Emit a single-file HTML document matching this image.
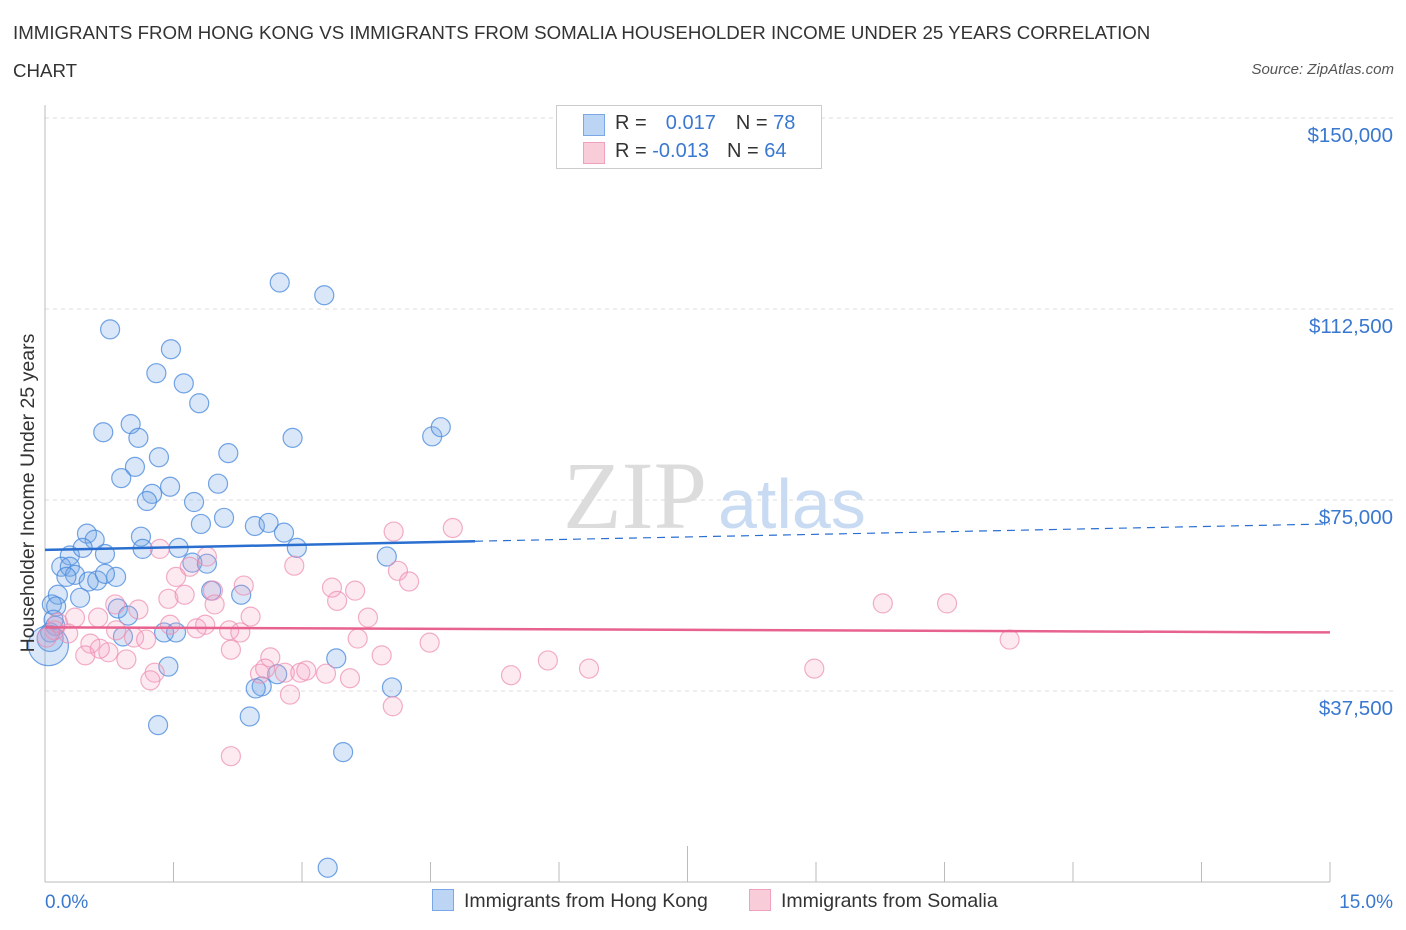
<!DOCTYPE html>
<html><head><meta charset="utf-8"><style>
body{margin:0;background:#fff;font-family:"Liberation Sans",sans-serif;}
#wrap{position:relative;width:1406px;height:930px;overflow:hidden;}
.t{position:absolute;white-space:nowrap;}
</style></head><body>
<div id="wrap">
<div class="t" style="left:13px;top:14px;font-size:18.7px;color:#333;line-height:38px;">IMMIGRANTS FROM HONG KONG VS IMMIGRANTS FROM SOMALIA HOUSEHOLDER INCOME UNDER 25 YEARS CORRELATION<br>CHART</div>
<div class="t" style="right:12px;top:61px;font-size:15px;color:#555;font-style:italic;">Source: ZipAtlas.com</div>
<svg id="svg" width="1406" height="930" style="position:absolute;left:0;top:0"></svg>
</div>
<script>
const yTicks=[37500,75000,112500,150000];
const yTickLabels=["$37,500","$75,000","$112,500","$150,000"];
const xTickLabels=["0.0%","15.0%"];
const hkX=[0.76,2.74,3.26,1.47,1.30,1.62,1.80,0.68,1.00,1.09,2.89,4.52,4.62,2.14,1.33,1.05,0.89,1.46,2.02,1.25,1.19,1.74,2.09,1.82,2.45,2.61,2.79,1.12,0.49,0.58,2.94,1.14,1.56,0.29,0.44,0.70,1.72,1.89,3.99,0.19,0.29,0.35,0.25,0.83,0.51,0.61,1.94,2.29,0.15,0.41,0.08,0.13,0.85,0.97,0.12,0.06,1.39,1.53,0.91,3.40,1.44,2.71,2.53,2.46,4.05,2.39,1.32,3.48,3.30,0.06,0.04,0.10,0.70];
const hkY=[108.5,117.7,115.2,104.6,99.9,97.9,94.0,88.3,89.9,87.2,87.2,87.5,89.3,84.2,83.4,81.5,79.3,77.6,78.2,76.2,74.8,74.6,71.5,70.3,69.9,70.5,68.6,67.8,68.4,67.2,65.6,65.4,65.6,64.1,65.6,64.4,62.7,62.5,63.9,61.9,61.9,60.3,59.9,59.9,59.0,59.2,57.2,56.4,56.4,55.8,54.5,54.1,53.7,52.3,50.3,49.0,49.0,49.0,48.2,43.9,42.3,40.8,38.4,38.0,38.2,32.5,30.8,25.5,2.8,47.8,46.4,51.5,60.5];
const soX=[1.34,1.89,1.69,1.53,1.44,1.63,1.96,1.98,2.32,2.40,1.87,2.15,2.28,1.09,0.82,0.62,0.35,0.27,0.11,0.02,0.53,0.74,0.64,0.47,0.95,1.04,1.18,0.83,1.28,1.23,1.77,2.17,2.63,2.51,2.80,2.98,3.05,2.86,3.28,3.56,2.17,2.91,3.35,3.41,3.62,3.77,3.65,3.93,4.07,4.12,4.25,4.06,4.49,4.76,5.44,5.87,6.35,8.98,9.78,10.53,11.26,2.57,1.46,0.15];
const soY=[65.4,63.9,61.9,59.9,55.6,56.4,57.2,54.5,58.2,52.1,50.5,49.4,49.0,53.5,54.5,51.9,51.9,48.8,49.4,48.0,46.8,45.1,45.8,44.5,43.7,48.0,47.6,49.4,41.1,39.6,49.8,45.6,44.1,40.9,41.1,41.1,41.5,36.8,40.9,40.0,24.7,62.1,57.8,55.2,57.2,51.9,47.8,44.5,68.8,61.1,59.0,34.5,47.0,69.5,40.6,43.5,41.9,41.9,54.7,54.7,47.6,41.9,50.5,50.9];
const hkTrend=[65.2,70.3], soTrend=[50.0,49.0];

const NS="http://www.w3.org/2000/svg", svg=document.getElementById('svg');
const X0=45,X1=1330,Y0=882,YPX=191/37500;
const sx=v=>X0+(v/15)*(X1-X0);
const sy=v=>Y0-v*YPX;
function mk(tag,a,p){const e=document.createElementNS(NS,tag);for(const k in a)e.setAttribute(k,a[k]);(p||svg).appendChild(e);return e;}
yTicks.forEach((t,i)=>{
 const g=mk('line',{x1:X0,x2:1395,y1:sy(t),y2:sy(t),stroke:'#dcdcdc','stroke-dasharray':'4,4'});
 
 
 const l=mk('text',{x:1393,y:sy(t)+24,'text-anchor':'end','font-size':20.5,fill:'#3a78d0','font-family':'Liberation Sans, sans-serif'});
 l.textContent=yTickLabels[i];
 
 
});
const ax=mk('line',{x1:X0,x2:X0,y1:105,y2:Y0,stroke:'#bbb'});


const bx=mk('line',{x1:X0,x2:X1,y1:Y0,y2:Y0,stroke:'#bbb'});


for(let i=1;i<=10;i++){const tk=mk('line',{x1:sx(i*1.5),x2:sx(i*1.5),y1:i==5?846:862,y2:Y0,stroke:'#bbb'});
 
 }
[[0,'start',45],[1,'end',1393]].forEach(([i,a,x])=>{const t=mk('text',{x:x,y:908,'text-anchor':a,'font-size':19,fill:'#3a78d0','font-family':'Liberation Sans, sans-serif'});t.textContent=xTickLabels[i];
 
 });
const wm=mk('text',{x:635,y:528,'text-anchor':'middle','font-size':96,fill:'#dcdcdc','font-family':'Liberation Serif, serif'});wm.textContent='ZIP';


const wm2=mk('text',{x:718,y:528,'font-size':70,fill:'#c8dbf2','font-family':'Liberation Sans, sans-serif'});wm2.textContent='atlas';


hkX.forEach((v,i)=>{const c=mk('circle',{cx:sx(v),cy:sy(hkY[i]*1000),r:i==70?20:(i==69?13:9.5),fill:'rgba(120,170,230,0.28)',stroke:'rgba(70,135,220,0.75)','stroke-width':1.2});
 
 });
soX.forEach((v,i)=>{const c=mk('circle',{cx:sx(v),cy:sy(soY[i]*1000),r:9.5,fill:'rgba(245,160,190,0.22)',stroke:'rgba(236,140,175,0.7)','stroke-width':1.2});
 
 });
const hs=5.02, hv=hkTrend[0]+(hkTrend[1]-hkTrend[0])*hs/15;
const t1=mk('line',{x1:sx(0),y1:sy(hkTrend[0]*1000),x2:sx(hs),y2:sy(hv*1000),stroke:'#2a6fd0','stroke-width':2.5});


const t2=mk('line',{x1:sx(hs),y1:sy(hv*1000),x2:sx(15),y2:sy(hkTrend[1]*1000),stroke:'#2a6fd0','stroke-width':1.2,'stroke-dasharray':'8,6'});


const t3=mk('line',{x1:sx(0),y1:sy(soTrend[0]*1000),x2:sx(15),y2:sy(soTrend[1]*1000),stroke:'#e8628f','stroke-width':2.5});


const yt=mk('text',{x:0,y:0,transform:'translate(34,493) rotate(-90)','text-anchor':'middle','font-size':19.5,fill:'#333','font-family':'Liberation Sans, sans-serif'});yt.textContent='Householder Income Under 25 years';


</script>
<div style="position:absolute;left:556px;top:105px;width:264px;height:62px;border:1px solid #ccc;background:#fff;font-size:20px;color:#333;">
 <div style="position:absolute;left:26px;top:8px;width:20px;height:20px;background:#bcd5f5;border:1px solid #7aa8e6"></div>
 <div class="t" style="left:58px;top:6px">R = &nbsp;<span style="color:#3a78d0;margin-left:8px">0.017</span><span style="margin-left:20px">N = </span><span style="color:#3a78d0">78</span></div>
 <div style="position:absolute;left:26px;top:36px;width:20px;height:20px;background:#f9ccd9;border:1px solid #f0a2bc"></div>
 <div class="t" style="left:58px;top:34px">R = <span style="color:#3a78d0">-0.013</span><span style="margin-left:18px">N = </span><span style="color:#3a78d0">64</span></div>
</div>
<div style="position:absolute;left:432px;top:889px;font-size:19.5px;color:#333;">
 <span style="position:absolute;left:0;top:0;white-space:nowrap"><span style="display:inline-block;width:20px;height:20px;background:#bcd5f5;border:1px solid #7aa8e6;vertical-align:-4px;margin-right:10px"></span>Immigrants from Hong Kong</span>
 <span style="position:absolute;left:317px;top:0;white-space:nowrap"><span style="display:inline-block;width:20px;height:20px;background:#f9ccd9;border:1px solid #f0a2bc;vertical-align:-4px;margin-right:10px"></span>Immigrants from Somalia</span>
</div>
</body></html>
